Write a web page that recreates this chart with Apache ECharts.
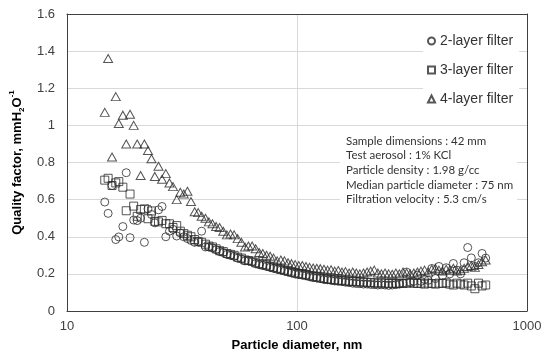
<!DOCTYPE html>
<html>
<head>
<meta charset="utf-8">
<script src="https://cdn.jsdelivr.net/npm/echarts@6/dist/echarts.min.js"></script>
<style>
  html, body { margin: 0; padding: 0; background: #fff; }
  #chart { width: 552px; height: 357px; }
</style>
</head>
<body>
<div id="chart"></div>
<script>
// particle diameter channels, nm
const diameters = [
  14.6, 15.1, 15.7, 16.3, 16.8, 17.5, 18.1, 18.8, 19.5, 20.2, 20.9, 21.7, 22.5, 23.3, 24.1, 25.0,
  25.9, 26.9, 27.9, 28.9, 30.0, 31.1, 32.2, 33.4, 34.6, 35.9, 37.2, 38.5, 40.0, 41.4, 42.9, 44.5,
  46.1, 47.8, 49.6, 51.4, 53.3, 55.2, 57.3, 59.4, 61.5, 63.8, 66.1, 68.5, 71.0, 73.7, 76.4, 79.1,
  82.0, 85.1, 88.2, 91.4, 94.7, 98.2, 101.8, 105.5, 109.4, 113.4, 117.6, 121.9, 126.3, 131.0, 135.8, 140.7,
  145.9, 151.2, 156.8, 162.5, 168.5, 174.7, 181.1, 187.7, 194.6, 201.7, 209.1, 216.7, 224.7, 232.9, 241.4, 250.3,
  259.5, 269.0, 278.8, 289.0, 299.6, 310.6, 322.0, 333.8, 346.0, 358.7, 371.8, 385.4, 399.5, 414.2, 429.4, 445.1,
  461.4, 478.3, 495.8, 514.0, 532.8, 552.3, 572.5, 593.5, 615.3, 637.8, 661.2
];

// quality factor, mmH2O^-1
const qf2Layer = [
  0.587, 0.526, 0.676, 0.385, 0.399, 0.455, 0.745, 0.395, 0.49, 0.487, 0.50, 0.37, 0.55, 0.52, 0.475, 0.545,
  0.563, 0.40, 0.43, 0.44, 0.404, 0.42, 0.40, 0.39, 0.38, 0.37, 0.375, 0.43, 0.345, 0.345, 0.34, 0.33,
  0.32, 0.315, 0.305, 0.30, 0.295, 0.285, 0.28, 0.27, 0.27, 0.265, 0.255, 0.25, 0.245, 0.24, 0.235, 0.23,
  0.225, 0.22, 0.215, 0.21, 0.205, 0.20, 0.197, 0.193, 0.19, 0.185, 0.18, 0.178, 0.175, 0.17, 0.168, 0.165,
  0.162, 0.16, 0.158, 0.155, 0.153, 0.15, 0.148, 0.147, 0.145, 0.145, 0.143, 0.142, 0.14, 0.142, 0.14, 0.138,
  0.14, 0.142, 0.145, 0.15, 0.21, 0.155, 0.16, 0.193, 0.16, 0.17, 0.165, 0.229, 0.175, 0.24, 0.19, 0.233,
  0.20, 0.256, 0.22, 0.20, 0.26, 0.342, 0.286, 0.24, 0.26, 0.31, 0.285
];
const qf3Layer = [
  0.705, 0.715, 0.676, 0.69, 0.697, 0.667, 0.54, 0.63, 0.565, 0.51, 0.547, 0.55, 0.497, 0.539, 0.483, 0.48,
  0.488, 0.47, 0.47, 0.45, 0.46, 0.43, 0.417, 0.408, 0.40, 0.385, 0.375, 0.37, 0.36, 0.35, 0.345, 0.335,
  0.325, 0.32, 0.31, 0.305, 0.30, 0.29, 0.285, 0.275, 0.272, 0.268, 0.26, 0.255, 0.25, 0.247, 0.24, 0.235,
  0.23, 0.225, 0.22, 0.215, 0.21, 0.205, 0.20, 0.198, 0.195, 0.19, 0.185, 0.183, 0.178, 0.175, 0.172, 0.17,
  0.168, 0.165, 0.165, 0.162, 0.16, 0.16, 0.158, 0.157, 0.155, 0.155, 0.153, 0.152, 0.15, 0.152, 0.15, 0.148,
  0.15, 0.148, 0.15, 0.148, 0.15, 0.152, 0.15, 0.148, 0.15, 0.145, 0.15, 0.148, 0.145, 0.15, 0.148, 0.152,
  0.145, 0.14, 0.15, 0.145, 0.14, 0.15, 0.135, 0.12, 0.15, 0.135, 0.14
];
const qf4Layer = [
  1.07, 1.36, 0.83, 1.155, 1.01, 1.055, 0.90, 1.06, 1.00, 0.90, 0.73, 0.90, 0.865, 0.82, 0.725, 0.78,
  0.71, 0.74, 0.69, 0.67, 0.60, 0.64, 0.63, 0.645, 0.59, 0.535, 0.53, 0.51, 0.50, 0.48, 0.47, 0.455,
  0.45, 0.43, 0.41, 0.415, 0.41, 0.39, 0.37, 0.345, 0.35, 0.35, 0.335, 0.315, 0.31, 0.30, 0.295, 0.285,
  0.27, 0.275, 0.27, 0.26, 0.255, 0.25, 0.245, 0.245, 0.24, 0.235, 0.232, 0.23, 0.228, 0.225, 0.22, 0.222,
  0.215, 0.218, 0.21, 0.212, 0.205, 0.21, 0.205, 0.20, 0.205, 0.21, 0.215, 0.22, 0.205, 0.20, 0.205, 0.20,
  0.198, 0.205, 0.20, 0.21, 0.205, 0.20, 0.205, 0.21, 0.215, 0.22, 0.21, 0.225, 0.23, 0.22, 0.215, 0.225,
  0.22, 0.23, 0.215, 0.22, 0.23, 0.24, 0.245, 0.235, 0.25, 0.265, 0.275
];

const seriesNames = ['2-layer filter', '3-layer filter', '4-layer filter'];
const yTicks = [0, 0.2, 0.4, 0.6, 0.8, 1, 1.2, 1.4, 1.6];
const notes = [
  'Sample dimensions : 42 mm',
  'Test aerosol : 1% KCl',
  'Particle density : 1.98 g/cc',
  'Median particle diameter : 75 nm',
  'Filtration velocity : 5.3 cm/s'
];

const ink = '#2b2b2b';
const frame = '#404040';
const pairs = ys => diameters.map((d, i) => [d, ys[i]]);

const markerStyle = {
  color: 'rgba(255,255,255,0)',
  borderColor: ink,
  borderWidth: 1
};

// the plot frame: extra top/right axes carry only their lines
const frameAxis = { show: true, onZero: false, lineStyle: { color: frame, width: 1 } };

const chart = echarts.init(document.getElementById('chart'));

chart.setOption({
  backgroundColor: '#fff',
  animation: false,
  grid: { left: 57, right: 25, top: 14, bottom: 44 },
  legend: {
    orient: 'vertical',
    left: 423, top: 29,
    padding: [4, 6, 4, 4],
    backgroundColor: '#fff',
    itemWidth: 7, itemHeight: 7, itemGap: 13,
    textStyle: { fontFamily: 'Liberation Sans', fontSize: 14, color: '#333', lineHeight: 16 },
    data: seriesNames
  },
  xAxis: [
    {
      type: 'log', logBase: 10, min: 10, max: 1000,
      name: 'Particle diameter, nm',
      nameLocation: 'middle', nameGap: 28,
      nameTextStyle: { fontFamily: 'Liberation Sans', fontWeight: 'bold', fontSize: 13, color: '#000' },
      axisLine: frameAxis,
      axisTick: { show: false },
      axisLabel: {
        fontFamily: 'Liberation Sans', fontSize: 13, color: '#404040', margin: 9,
        formatter: v => String(v)
      },
      splitLine: { show: true, lineStyle: { color: '#d9d9d9' } },
      minorTick: { show: false }
    },
    {
      type: 'log', logBase: 10, min: 10, max: 1000, position: 'top',
      axisLine: frameAxis, axisTick: { show: false }, axisLabel: { show: false }, splitLine: { show: false }
    }
  ],
  yAxis: [
    {
      type: 'value', min: yTicks[0], max: yTicks[yTicks.length - 1], interval: 0.2,
      name: '{a|Quality factor, mmH}{s|2}{a|O}{p|-1}',
      nameLocation: 'middle', nameGap: 31, nameRotate: 90,
      nameTextStyle: {
        fontFamily: 'Liberation Sans', fontWeight: 'bold', fontSize: 13, color: '#000',
        rich: {
          a: { fontFamily: 'Liberation Sans', fontWeight: 'bold', fontSize: 13, color: '#000', lineHeight: 18 },
          s: { fontFamily: 'Liberation Sans', fontWeight: 'bold', fontSize: 8, color: '#000', verticalAlign: 'bottom', lineHeight: 18 },
          p: { fontFamily: 'Liberation Sans', fontWeight: 'bold', fontSize: 8, color: '#000', verticalAlign: 'top', lineHeight: 18 }
        }
      },
      axisLine: frameAxis,
      axisTick: { show: false },
      axisLabel: { fontFamily: 'Liberation Sans', fontSize: 13, color: '#404040', margin: 12 },
      splitLine: { show: true, lineStyle: { color: '#d9d9d9' } }
    },
    {
      type: 'value', min: yTicks[0], max: yTicks[yTicks.length - 1], interval: 0.2, position: 'right',
      axisLine: frameAxis, axisTick: { show: false }, axisLabel: { show: false }, splitLine: { show: false }
    }
  ],
  graphic: [
    {
      type: 'rect', left: 340, top: 133, z: 5,
      shape: { width: 177, height: 75 },
      style: { fill: '#fff' }
    },
    {
      type: 'text', left: 346, top: 133.5, z: 6,
      style: {
        text: notes.join('\n'),
        font: '11.5px Lato',
        lineHeight: 14.7,
        fill: '#333'
      }
    }
  ],
  series: [
    {
      name: seriesNames[0], type: 'scatter', symbol: 'circle', symbolSize: 8,
      itemStyle: markerStyle, data: pairs(qf2Layer)
    },
    {
      name: seriesNames[1], type: 'scatter', symbol: 'rect', symbolSize: 8,
      itemStyle: markerStyle, data: pairs(qf3Layer)
    },
    {
      name: seriesNames[2], type: 'scatter', symbol: 'triangle', symbolSize: [9, 8],
      itemStyle: markerStyle, data: pairs(qf4Layer)
    }
  ]
});
</script>
</body>
</html>
